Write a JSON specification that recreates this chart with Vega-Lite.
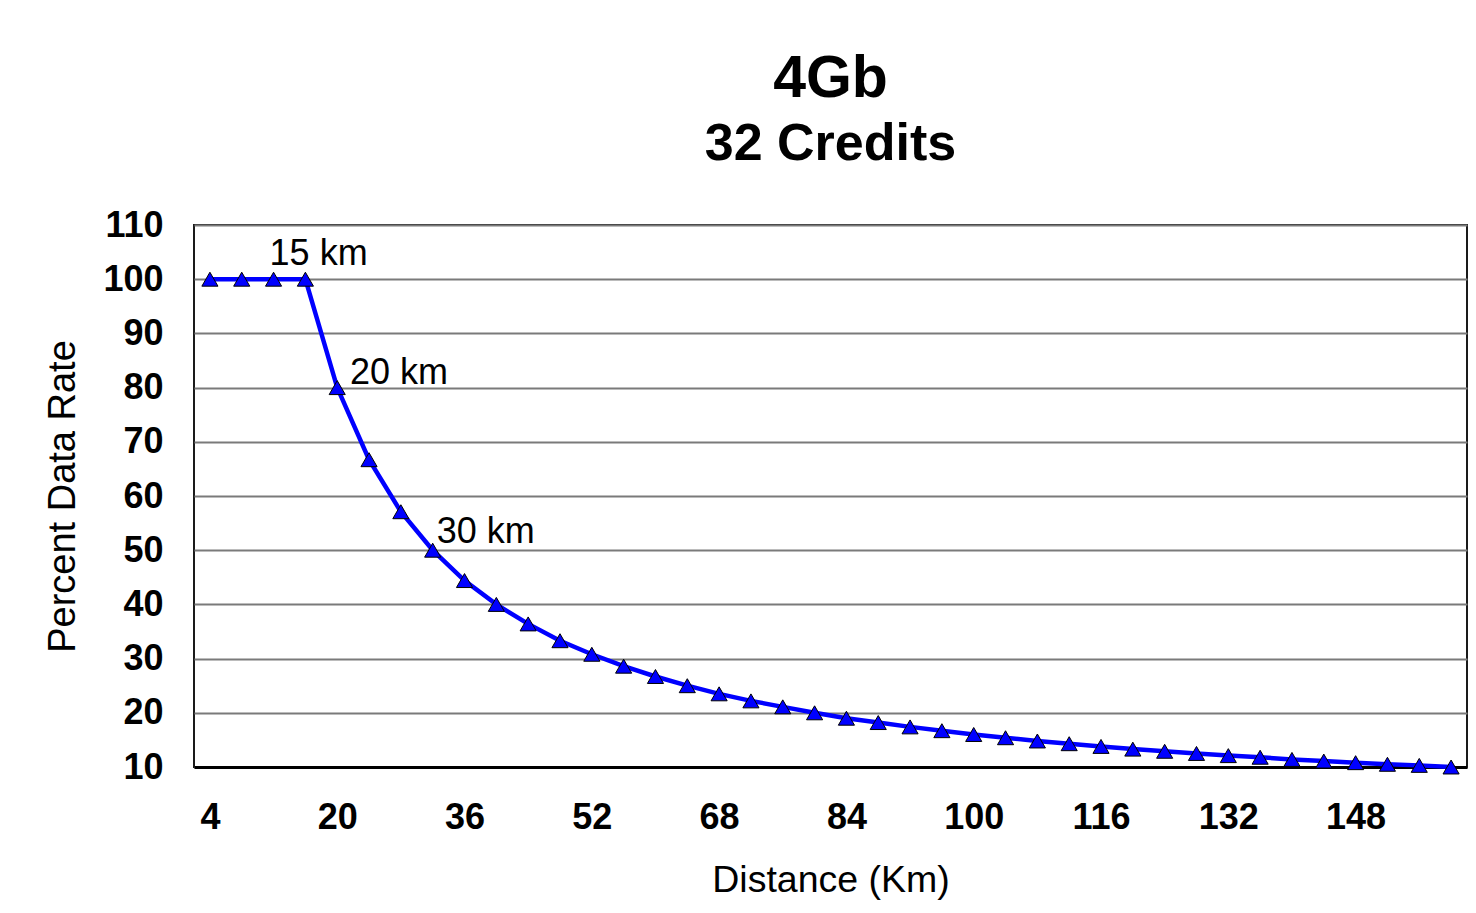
{
  "$schema": "https://vega.github.io/schema/vega-lite/v6.json",
  "width": 1273,
  "height": 542,
  "autosize": "none",
  "padding": {"left": 194, "top": 225, "right": 9, "bottom": 146},
  "background": "white",
  "title": {
    "text": "4Gb",
    "subtitle": "32 Credits",
    "font": "Liberation Sans",
    "subtitleFont": "Liberation Sans",
    "fontSize": 59,
    "subtitleFontSize": 52,
    "fontWeight": "bold",
    "subtitleFontWeight": "bold",
    "color": "black",
    "subtitleColor": "black",
    "anchor": "middle",
    "frame": "group",
    "offset": 37,
    "subtitlePadding": 10
  },
  "datasets": {
    "series": [
      {"km": 4, "pct": 100}, {"km": 8, "pct": 100}, {"km": 12, "pct": 100}, {"km": 16, "pct": 100},
      {"km": 20, "pct": 80}, {"km": 24, "pct": 66.7}, {"km": 28, "pct": 57.1}, {"km": 32, "pct": 50},
      {"km": 36, "pct": 44.4}, {"km": 40, "pct": 40}, {"km": 44, "pct": 36.4}, {"km": 48, "pct": 33.3},
      {"km": 52, "pct": 30.8}, {"km": 56, "pct": 28.6}, {"km": 60, "pct": 26.7}, {"km": 64, "pct": 25},
      {"km": 68, "pct": 23.5}, {"km": 72, "pct": 22.2}, {"km": 76, "pct": 21.1}, {"km": 80, "pct": 20},
      {"km": 84, "pct": 19}, {"km": 88, "pct": 18.2}, {"km": 92, "pct": 17.4}, {"km": 96, "pct": 16.7},
      {"km": 100, "pct": 16}, {"km": 104, "pct": 15.4}, {"km": 108, "pct": 14.8}, {"km": 112, "pct": 14.3},
      {"km": 116, "pct": 13.8}, {"km": 120, "pct": 13.3}, {"km": 124, "pct": 12.9}, {"km": 128, "pct": 12.5},
      {"km": 132, "pct": 12.1}, {"km": 136, "pct": 11.8}, {"km": 140, "pct": 11.4}, {"km": 144, "pct": 11.1},
      {"km": 148, "pct": 10.8}, {"km": 152, "pct": 10.5}, {"km": 156, "pct": 10.3}, {"km": 160, "pct": 10}
    ],
    "notes": [
      {"km": 11.5, "pct": 102.6, "label": "15 km"},
      {"km": 21.6, "pct": 80.7, "label": "20 km"},
      {"km": 32.5, "pct": 51.3, "label": "30 km"}
    ]
  },
  "encoding": {
    "x": {
      "field": "km",
      "type": "quantitative",
      "scale": {"domain": [2, 162], "nice": false, "zero": false},
      "axis": {
        "values": [4, 20, 36, 52, 68, 84, 100, 116, 132, 148],
        "title": "Distance (Km)",
        "grid": false,
        "ticks": false,
        "tickSize": 0,
        "labelPadding": 33,
        "titlePadding": 26,
        "domainColor": "black",
        "domainWidth": 3,
        "labelFont": "Liberation Sans",
        "titleFont": "Liberation Sans",
        "labelFontSize": 36,
        "labelFontWeight": "bold",
        "titleFontSize": 37.5,
        "titleFontWeight": "normal",
        "labelColor": "black",
        "titleColor": "black",
        "labelFlush": false,
        "labelOverlap": false
      }
    },
    "y": {
      "field": "pct",
      "type": "quantitative",
      "scale": {"domain": [10, 110], "nice": false, "zero": false},
      "axis": {
        "values": [10, 20, 30, 40, 50, 60, 70, 80, 90, 100, 110],
        "title": "Percent Data Rate",
        "grid": true,
        "gridColor": "#7a7a7a",
        "gridWidth": 2,
        "gridOpacity": 1,
        "ticks": false,
        "tickSize": 0,
        "domain": false,
        "labelPadding": 31,
        "titlePadding": 20,
        "labelFont": "Liberation Sans",
        "titleFont": "Liberation Sans",
        "labelFontSize": 36,
        "labelFontWeight": "bold",
        "titleFontSize": 38,
        "titleFontWeight": "normal",
        "labelColor": "black",
        "titleColor": "black",
        "labelFlush": false,
        "labelOverlap": false
      }
    }
  },
  "layer": [
    {
      "data": {"name": "series"},
      "mark": {"type": "line", "color": "#0000ff", "strokeWidth": 4.5}
    },
    {
      "data": {"name": "series"},
      "mark": {"type": "point", "shape": "triangle-up", "filled": true, "fill": "#0000ff", "stroke": "black", "strokeWidth": 1, "size": 260, "opacity": 1}
    },
    {
      "data": {"name": "notes"},
      "mark": {"type": "text", "align": "left", "baseline": "alphabetic", "font": "Liberation Sans", "fontSize": 36, "color": "black"},
      "encoding": {"text": {"field": "label"}}
    }
  ],
  "config": {
    "view": {"stroke": "#1a1a1a", "strokeWidth": 2}
  }
}
